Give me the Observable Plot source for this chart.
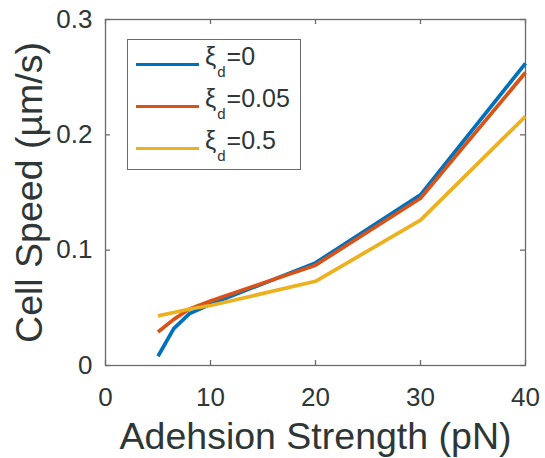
<!DOCTYPE html>
<html>
<head>
<meta charset="utf-8">
<script src="https://cdn.jsdelivr.net/npm/d3@7"></script>
<script src="https://cdn.jsdelivr.net/npm/@observablehq/plot@0.6"></script>
<style>
  html, body { margin: 0; padding: 0; background: #fff; }
  #wrap { position: relative; width: 545px; height: 458px; font-family: "Liberation Sans", Arial, Helvetica, sans-serif; }
  #legend { position: absolute; left: 127px; top: 39px; width: 174px; height: 131px; border: 1.5px solid #6b6b6b; background: #fff; box-sizing: border-box; }
  .row { position: absolute; left: 0; height: 0; }
  .sw { position: absolute; left: 8px; width: 63px; height: 3.5px; margin-top: -1.75px; }
  .lab { position: absolute; left: 77px; top: -23px; font-size: 25px; line-height: 29px; color: #2e3636; white-space: nowrap; }
  .lab .sb { font-size: 15px; position: relative; top: 12px; margin: 0 1px 0 1px; }
</style>
</head>
<body>
<div id="wrap"></div>
<script>
const strength = [5, 6.5, 8, 10, 20, 30, 40];
const speedXi0 = [0.008, 0.032, 0.045, 0.053, 0.089, 0.148, 0.262];
const speedXi005 = [0.029, 0.040, 0.049, 0.056, 0.087, 0.145, 0.254];
const speedXi05 = [0.043, 0.046, 0.049, 0.052, 0.073, 0.126, 0.216];
const seriesNames = ["0", "0.05", "0.5"];
const seriesColors = ["#0072BD", "#D95319", "#EDB120"];
const xTicks = [0, 10, 20, 30, 40];
const yTicks = [0, 0.1, 0.2, 0.3];
const xLabel = "Adehsion Strength (pN)";
const yLabel = "Cell Speed (µm/s)";

const seriesValues = [speedXi0, speedXi005, speedXi05];
const data = [];
seriesValues.forEach((vals, i) => vals.forEach((v, j) => data.push({x: strength[j], y: v, s: seriesNames[i]})));

const W = 545, H = 458, mL = 105, mR = 20, mT = 19, mB = 93;
const pw = W - mL - mR, ph = H - mT - mB;
const ink = "#2e3636";
const axisInk = "#6b6b6b";

const chart = Plot.plot({
  width: W, height: H,
  marginLeft: mL, marginRight: mR, marginTop: mT, marginBottom: mB,
  style: {fontFamily: '"Liberation Sans", Arial, Helvetica, sans-serif', color: ink, background: "#fff"},
  x: {domain: [0, 40]},
  y: {domain: [0, 0.3]},
  color: {domain: seriesNames, range: seriesColors},
  marks: [
    Plot.frame({stroke: axisInk, strokeWidth: 1.3}),
    Plot.tickX(xTicks, {x: d => d, stroke: axisInk, strokeWidth: 1.3, insetTop: ph - 5}),
    Plot.tickX(xTicks, {x: d => d, stroke: axisInk, strokeWidth: 1.3, insetBottom: ph - 5}),
    Plot.tickY(yTicks, {y: d => d, stroke: axisInk, strokeWidth: 1.3, insetRight: pw - 5}),
    Plot.tickY(yTicks, {y: d => d, stroke: axisInk, strokeWidth: 1.3, insetLeft: pw - 5}),
    Plot.axisX({ticks: xTicks, tickSize: 0, tickPadding: 22, fontSize: 26, label: null, fill: ink}),
    Plot.axisY({ticks: yTicks, tickSize: 0, tickPadding: 13, fontSize: 26, label: null, fill: ink, tickFormat: d => d === 0 ? "0" : d3.format(".1f")(d)}),
    Plot.line(data, {x: "x", y: "y", stroke: "s", strokeWidth: 3.7, strokeLinejoin: "miter", strokeLinecap: "butt"}),
    Plot.text([xLabel], {text: d => d, frameAnchor: "bottom", textAnchor: "middle", lineAnchor: "bottom", dy: 83, fontSize: 37.5, fill: ink}),
    Plot.text([yLabel], {text: d => d, frameAnchor: "left", textAnchor: "middle", lineAnchor: "bottom", rotate: -90, dx: -64, fontSize: 37.5, fill: ink})
  ]
});

const wrap = document.getElementById("wrap");
wrap.appendChild(chart);

const legend = document.createElement("div");
legend.id = "legend";
const rowY = [24.5, 66.5, 108.5];
seriesNames.forEach((n, i) => {
  const row = document.createElement("div");
  row.className = "row";
  row.style.top = rowY[i] + "px";
  const sw = document.createElement("div");
  sw.className = "sw";
  sw.style.background = seriesColors[i];
  const lab = document.createElement("div");
  lab.className = "lab";
  lab.innerHTML = "ξ<span class=\"sb\">d</span>=" + n;
  row.appendChild(sw);
  row.appendChild(lab);
  legend.appendChild(row);
});
wrap.appendChild(legend);
</script>
</body>
</html>
